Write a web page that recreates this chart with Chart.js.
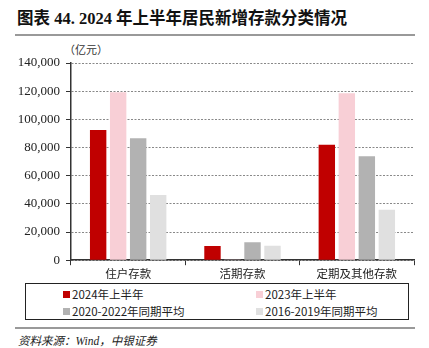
<!DOCTYPE html>
<html>
<head>
<meta charset="utf-8">
<script src="https://cdn.jsdelivr.net/npm/chart.js@4"></script>
<style>
body { margin: 0; background: #fff; width: 429px; height: 348px; position: relative; overflow: hidden; }
#title { position: absolute; left: 17px; top: 5px; font: bold 16.5px "Liberation Serif", "Noto Sans CJK SC"; color: #111; white-space: nowrap; }
.rule { position: absolute; left: 15px; width: 400px; height: 2px; background: #999; }
#unit { position: absolute; left: 64px; top: 41px; font: 11px "Noto Sans CJK SC"; color: #333; }
#wrap { position: absolute; left: 0; top: 45px; width: 429px; height: 238px; }
#legend { position: absolute; left: 25px; top: 283px; width: 384px; height: 37px; border: 1px solid #222; box-sizing: border-box; font: 11.5px "Noto Sans CJK SC"; color: #222; background: #fff; }
.item { position: absolute; white-space: nowrap; line-height: 14px; }
.sw { display: inline-block; width: 7px; height: 7px; margin-right: 2px; vertical-align: 1px; }
#source { position: absolute; left: 18px; top: 332px; font: italic 11.5px "Liberation Serif", "Noto Sans CJK SC"; color: #222; }
</style>
</head>
<body>
<div id="title">图表 44. 2024 年上半年居民新增存款分类情况</div>
<div class="rule" style="top:34px"></div>
<div id="unit">（亿元）</div>
<div id="wrap"><canvas id="cht"></canvas></div>
<div id="legend"></div>
<div class="rule" style="top:327px"></div>
<div id="source">资料来源：Wind，中银证券</div>
<script>
const categories = ['住户存款', '活期存款', '定期及其他存款'];
const seriesNames = ['2024年上半年', '2023年上半年', '2020-2022年同期平均', '2016-2019年同期平均'];
const vals2024 = [92400, 10000, 81900];
const vals2023 = [119200, 200, 118500];
const vals2020_2022 = [86600, 12700, 73800];
const vals2016_2019 = [46200, 10200, 35800];
const yTicks = [0, 20000, 40000, 60000, 80000, 100000, 120000, 140000];
const colors = ['#C00000', '#F8CFD6', '#B2B2B2', '#E0E0E0'];

const allVals = [vals2024, vals2023, vals2020_2022, vals2016_2019];

// legend built by hand (boxed, two columns)
const legend = document.getElementById('legend');
const pos = [[37, 3], [230, 3], [37, 20], [230, 20]];
seriesNames.forEach(function(name, i) {
    const d = document.createElement('div');
    d.className = 'item';
    d.style.left = pos[i][0] + 'px';
    d.style.top = pos[i][1] + 'px';
    d.innerHTML = '<span class="sw" style="background:' + colors[i] + '"></span>' + name;
    legend.appendChild(d);
});

var ctx = document.getElementById('cht');
var chart = new Chart(ctx, {
    type: 'bar',
    data: {
        labels: categories,
        datasets: seriesNames.map(function(name, i) {
            return {
                label: name,
                data: allVals[i],
                backgroundColor: colors[i],
                categoryPercentage: 0.7,
                barPercentage: 0.82
            };
        })
    },
    options: {
        responsive: true,
        maintainAspectRatio: false,
        animation: false,
        layout: { padding: { left: 0, right: 15, top: 18, bottom: 0 } },
        plugins: {
            legend: { display: false },
            tooltip: { enabled: false }
        },
        scales: {
            x: {
                grid: { display: true, drawOnChartArea: false, offset: true, color: '#333', tickLength: 5 },
                border: { color: '#333', width: 1.5 },
                ticks: { color: '#222', font: { family: 'Noto Sans CJK SC', size: 11.5 }, padding: 2 }
            },
            y: {
                min: 0,
                max: 140000,
                afterFit: function(scale) { scale.width = 71; },
                afterBuildTicks: function(scale) {
                    scale.ticks = yTicks.map(function(v) { return { value: v }; });
                },
                grid: { color: '#888', tickLength: 5, tickColor: '#333' },
                border: { color: '#333', width: 1.5, dash: [2, 1.5] },
                ticks: {
                    color: '#222',
                    font: { family: 'Liberation Serif', size: 13 },
                    padding: 6,
                    callback: function(v) { return v.toLocaleString('en-US'); }
                }
            }
        }
    }
});
</script>
</body>
</html>
